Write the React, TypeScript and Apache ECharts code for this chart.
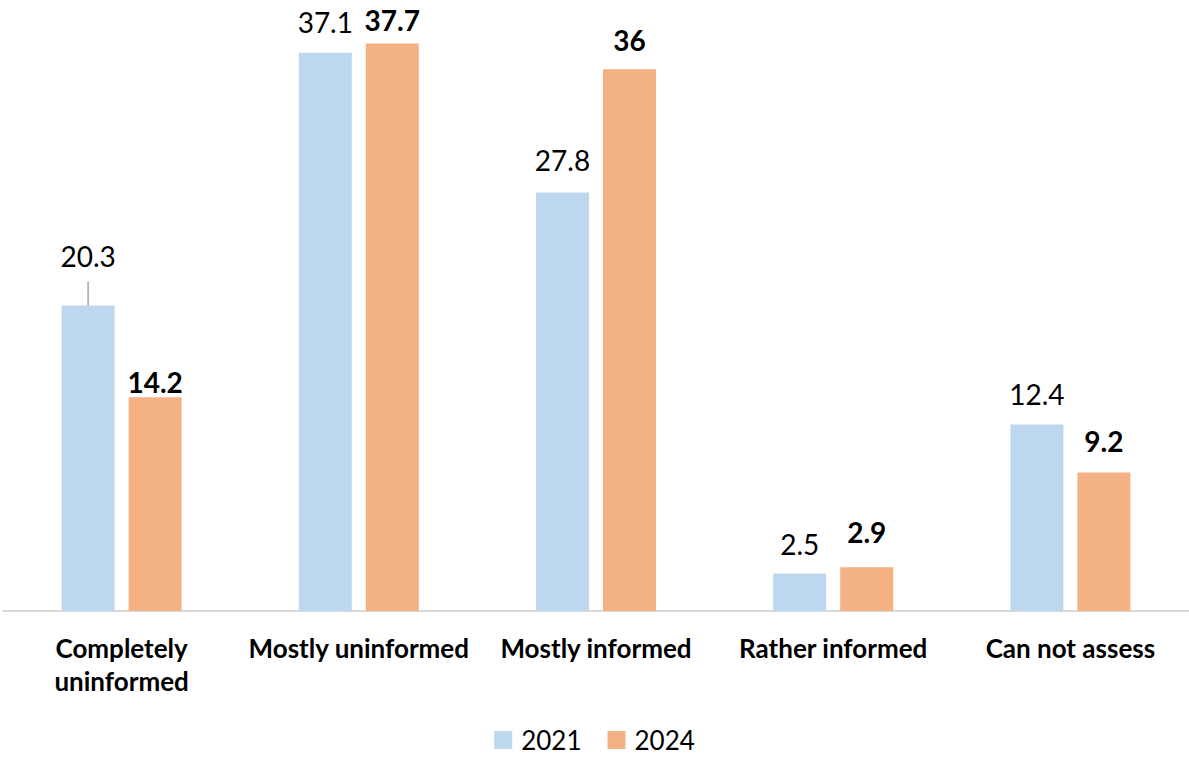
import React, { useEffect, useRef } from "react";
import * as echarts from "echarts";

const categories = ["Completely\nuninformed", "Mostly uninformed", "Mostly informed", "Rather informed", "Can not assess"];
const values2021 = [20.3, 37.1, 27.8, 2.5, 12.4];
const values2024 = [14.2, 37.7, 36, 2.9, 9.2];
const dist2021 = [35, 17, 19, 15, 16];
const dist2024 = [1, 10, 15, 21, 18];
const leaderLines = [[0, 20.3]];

const FONT = "Lato, 'Open Sans', sans-serif";
const BAR_W = 53;
const BAR_GAP = 14;

export default function App() {
  const ref = useRef<HTMLDivElement>(null);
  useEffect(() => {
    if (!ref.current) return;
    const chart = echarts.init(ref.current, null, { renderer: "svg" });
    chart.setOption({
      animation: false,
      textStyle: { fontFamily: FONT },
      grid: { left: 3, right: 0, top: 9, bottom: 148, containLabel: false },
      legend: {
        top: 727,
        left: "center",
        padding: 0,
        itemWidth: 18,
        itemHeight: 18,
        itemGap: 26,
        icon: "rect",
        textStyle: { fontSize: 26, lineHeight: 26, color: "#000", fontFamily: FONT, padding: [0, 0, 0, 4] },
        data: ["2021", "2024"],
      },
      xAxis: {
        type: "category",
        data: categories,
        axisLine: { lineStyle: { color: "#d9d9d9", width: 2 } },
        axisTick: { show: false },
        axisLabel: {
          color: "#000",
          fontWeight: "bold",
          fontSize: 26,
          lineHeight: 33,
          margin: 20,
          fontFamily: FONT,
          interval: 0,
        },
      },
      yAxis: {
        type: "value",
        min: 0,
        max: 40,
        show: false,
        splitLine: { show: false },
      },
      series: [
        {
          name: "2021",
          type: "bar",
          barWidth: BAR_W,
          barGap: (BAR_GAP / BAR_W) * 100 + "%",
          itemStyle: { color: "#BDD7EE" },
          label: { show: true, position: "top", fontSize: 28, color: "#000", fontFamily: FONT },
          data: values2021.map((v, i) => ({ value: v, label: { distance: dist2021[i] } })),
        },
        {
          name: "2024",
          type: "bar",
          barWidth: BAR_W,
          barGap: (BAR_GAP / BAR_W) * 100 + "%",
          itemStyle: { color: "#F4B183" },
          label: { show: true, position: "top", fontSize: 28, fontWeight: "bold", color: "#000", fontFamily: FONT },
          data: values2024.map((v, i) => ({ value: v, label: { distance: dist2024[i] } })),
        },
        {
          name: "leader",
          type: "custom",
          silent: true,
          z: 5,
          data: leaderLines,
          renderItem: (params: any, api: any) => {
            const p = api.coord([api.value(0), api.value(1)]);
            const x = p[0] - (BAR_W + BAR_GAP) / 2;
            return {
              type: "line",
              shape: { x1: x, y1: p[1], x2: x, y2: p[1] - 24 },
              style: { stroke: "#a6a6a6", lineWidth: 1.5 },
            };
          },
        },
      ],
    });
    return () => chart.dispose();
  }, []);
  return <div ref={ref} style={{ width: 1189, height: 759, position: "absolute", left: 0, top: 0 }} />;
}
